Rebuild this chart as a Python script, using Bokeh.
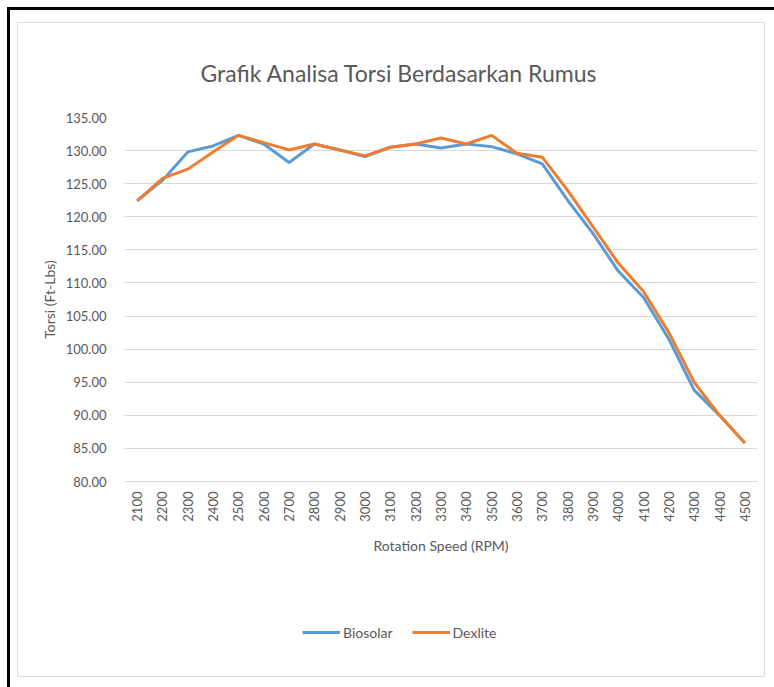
from bokeh.plotting import figure
from bokeh.layouts import column
from bokeh.models import (FactorRange, Range1d, Legend, LegendItem,
                          FixedTicker, NumeralTickFormatter, ColumnDataSource)
from bokeh.embed import file_html
from bokeh.resources import INLINE

rpm = ["2100", "2200", "2300", "2400", "2500", "2600", "2700", "2800", "2900", "3000",
       "3100", "3200", "3300", "3400", "3500", "3600", "3700", "3800", "3900", "4000",
       "4100", "4200", "4300", "4400", "4500"]
biosolar = [122.4, 125.5, 129.8, 130.7, 132.3, 131.0, 128.2, 131.0, 130.1, 129.1,
            130.5, 131.0, 130.4, 131.0, 130.6, 129.5, 128.0, 122.5, 117.5, 111.8,
            107.8, 101.5, 93.8, 90.0, 85.8]
dexlite = [122.4, 125.8, 127.2, 129.8, 132.3, 131.2, 130.1, 131.0, 130.1, 129.2,
           130.5, 131.0, 131.9, 131.0, 132.3, 129.6, 129.0, 124.0, 118.5, 113.0,
           108.7, 102.5, 95.0, 90.0, 85.8]
y_ticks = [80, 85, 90, 95, 100, 105, 110, 115, 120, 125, 130, 135]
series_names = ["Biosolar", "Dexlite"]
series_colors = ["#5b9bd5", "#ed7d31"]

FONT = "Lato"
GREY = "#595959"

src = ColumnDataSource(dict(rpm=rpm, biosolar=biosolar, dexlite=dexlite))

p = figure(width=746, height=577, x_range=FactorRange(*rpm), y_range=Range1d(80, 135),
           output_backend="svg", toolbar_location=None,
           min_border_left=106, min_border_right=7, min_border_top=94, min_border_bottom=119)
p.outline_line_color = None
p.background_fill_color = "white"
p.border_fill_color = "white"

p.title.text = "Grafik Analisa Torsi Berdasarkan Rumus"
p.title.align = "left"
p.title.text_font = FONT
p.title.text_font_style = "normal"
p.title.text_font_size = "23px"
p.title.text_color = GREY
p.title.offset = 76
p.title.standoff = 61

# y axis
p.yaxis.ticker = FixedTicker(ticks=y_ticks)
p.yaxis.formatter = NumeralTickFormatter(format="0.00")
p.yaxis.axis_line_color = None
p.yaxis.major_tick_line_color = None
p.yaxis.minor_tick_line_color = None
p.yaxis.major_label_text_font = FONT
p.yaxis.major_label_text_font_size = "13px"
p.yaxis.major_label_text_color = GREY
p.yaxis.major_label_standoff = 12
p.yaxis.axis_label = "Torsi (Ft-Lbs)"
p.yaxis.axis_label_text_font = FONT
p.yaxis.axis_label_text_font_style = "normal"
p.yaxis.axis_label_text_font_size = "14px"
p.yaxis.axis_label_text_color = GREY
p.yaxis.axis_label_standoff = 5

# x axis
p.xaxis.major_label_orientation = 1.5708
p.xaxis.axis_line_color = "#d9d9d9"
p.xaxis.major_tick_line_color = None
p.xaxis.minor_tick_line_color = None
p.xaxis.major_label_text_font = FONT
p.xaxis.major_label_text_font_size = "13px"
p.xaxis.major_label_text_color = GREY
p.xaxis.major_label_standoff = 4
p.xaxis.axis_label = "Rotation Speed (RPM)"
p.xaxis.axis_label_text_font = FONT
p.xaxis.axis_label_text_font_style = "normal"
p.xaxis.axis_label_text_font_size = "14px"
p.xaxis.axis_label_text_color = GREY
p.xaxis.axis_label_standoff = 12

p.xgrid.grid_line_color = None
p.ygrid.grid_line_color = "#d9d9d9"
p.ygrid.grid_line_width = 1

p.line("rpm", "biosolar", source=src, line_color=series_colors[0], line_width=3)
p.line("rpm", "dexlite", source=src, line_color=series_colors[1], line_width=3)

# legend strip below the chart (proxy renderers kept outside the strip's visible range)
lf = figure(width=746, height=76, output_backend="svg", toolbar_location=None,
            min_border=0, x_range=Range1d(0, 1), y_range=Range1d(0, 1))
lf.axis.visible = False
lf.grid.visible = False
lf.outline_line_color = None
lf.border_fill_color = "white"
items = []
for name, col in zip(series_names, series_colors):
    r = lf.line(x=[5, 6], y=[5, 6], line_color=col, line_width=3)
    items.append(LegendItem(label=name, renderers=[r]))
legend = Legend(items=items, orientation="horizontal", location=(178, 34),
                label_text_font=FONT, label_text_font_size="14px", label_text_color=GREY,
                glyph_width=38, label_standoff=3, spacing=19, border_line_color=None,
                background_fill_alpha=0, margin=0, padding=0)
lf.add_layout(legend, "center")

inner = column(p, lf, spacing=0, margin=(12, 0, 0, 7),
               styles={"border": "1px solid #dcdcdc", "background": "white"})
root = column(inner, margin=(10, 0, 0, 10), width=775, height=680,
              styles={"box-shadow": "-3px -3px 0 0 #000", "background": "white"})

open("out.html", "w").write(file_html(root, INLINE))
